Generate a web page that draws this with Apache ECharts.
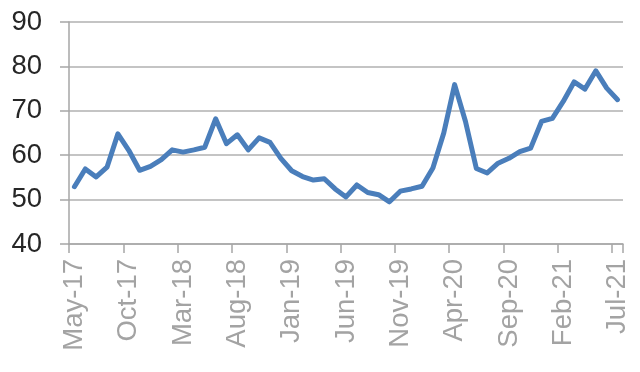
<!DOCTYPE html>
<html>
<head>
<meta charset="utf-8">
<script src="https://cdn.jsdelivr.net/npm/echarts@6/dist/echarts.min.js"></script>
<style>
html,body{margin:0;padding:0;background:#fff;}
#chart{width:640px;height:372px;}
</style>
</head>
<body>
<div id="chart"></div>
<script>
// Months May-17 .. Jul-21
var monthNames = ['Jan','Feb','Mar','Apr','May','Jun','Jul','Aug','Sep','Oct','Nov','Dec'];
var categories = [];
(function(){
  var m = 4, y = 17;
  for (var k = 0; k < 51; k++) {
    categories.push(monthNames[m] + '-' + y);
    m++; if (m > 11) { m = 0; y++; }
  }
})();

var values = [
  52.9, 56.9, 55.1, 57.3, 64.8, 61.1, 56.6, 57.5, 59.0, 61.2,
  60.7, 61.2, 61.8, 68.2, 62.6, 64.6, 61.2, 63.9, 62.9, 59.3,
  56.5, 55.2, 54.4, 54.7, 52.4, 50.6, 53.3, 51.6, 51.1, 49.5,
  51.9, 52.4, 53.0, 57.1, 65.0, 75.9, 67.6, 57.0, 56.0, 58.2,
  59.3, 60.8, 61.6, 67.6, 68.3, 72.1, 76.5, 74.9, 79.0, 75.1,
  72.5
];

var yTicks = { min: 40, max: 90, interval: 10 };

var chart = echarts.init(document.getElementById('chart'), null, {renderer: 'canvas'});
chart.setOption({
  animation: false,
  backgroundColor: '#ffffff',
  grid: { left: 69, right: 17, top: 22, bottom: 128, containLabel: false },
  xAxis: {
    type: 'category',
    data: categories,
    boundaryGap: true,
    axisLine: { show: true, lineStyle: { color: '#a6a6a6', width: 1.5 } },
    axisTick: { show: true, interval: 4, length: 9, lineStyle: { color: '#a6a6a6', width: 1.5 } },
    axisLabel: {
      interval: 4, rotate: 90, margin: 15,
      color: '#a3a3a3', fontSize: 27.5, fontFamily: 'Liberation Sans'
    },
    splitLine: { show: false }
  },
  yAxis: {
    type: 'value',
    min: yTicks.min, max: yTicks.max, interval: yTicks.interval,
    axisLine: { show: true, lineStyle: { color: '#a6a6a6', width: 1.5 } },
    axisTick: { show: true, length: 9, lineStyle: { color: '#a6a6a6', width: 1.5 } },
    axisLabel: { margin: 27, color: '#262626', fontSize: 27.5, fontFamily: 'Liberation Sans' },
    splitLine: { show: true, lineStyle: { color: '#b0b0b0', width: 1.5 } }
  },
  series: [{
    type: 'line',
    data: values,
    showSymbol: false,
    symbol: 'none',
    smooth: false,
    lineStyle: { color: '#4a7ebb', width: 5, join: 'round', cap: 'round' }
  }]
});
</script>
</body>
</html>
